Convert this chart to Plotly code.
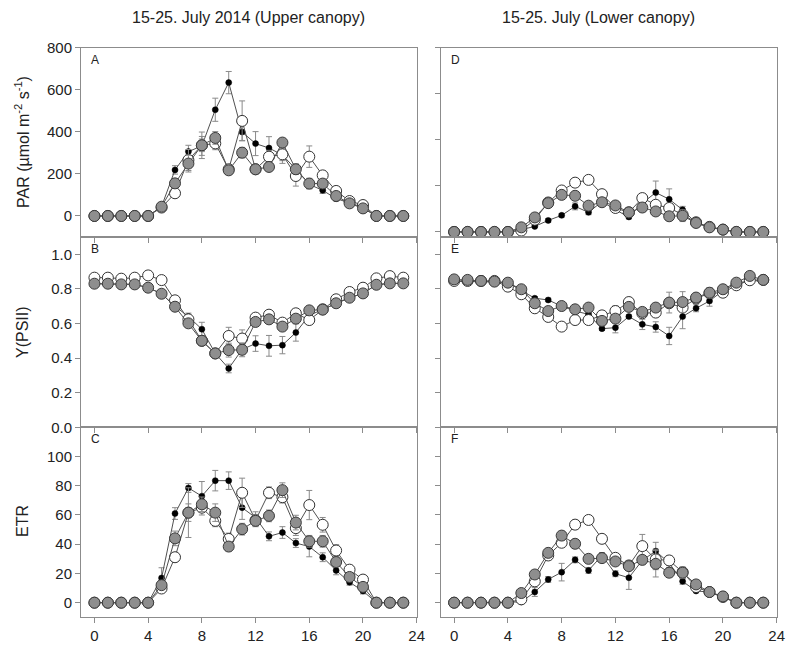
import plotly.graph_objects as go
from plotly.subplots import make_subplots

hours = list(range(24))

# Panel A: PAR, upper canopy
par_up_black = [0,0,0,0,0,45,219,306,333,505,634,399,344,323,290,222,150,122,82,63,40,0,0,0]
par_up_black_err = [0,0,0,0,0,15,20,30,45,55,53,40,57,54,40,25,20,15,10,8,5,0,0,0]
par_up_white = [0,0,0,0,0,40,108,266,336,345,222,452,222,282,293,190,282,193,119,71,52,0,0,0]
par_up_white_err = [0,0,0,0,0,10,15,50,63,30,20,95,20,30,30,48,51,20,15,10,8,0,0,0]
par_up_gray = [0,0,0,0,0,44,155,249,336,371,217,301,222,233,349,222,154,154,95,60,36,0,0,0]
par_up_gray_err = [0,0,0,0,0,10,20,40,30,30,20,25,15,20,20,25,25,20,10,8,5,0,0,0]

# Panel B: Y(PSII), upper canopy
y_up_black = [0.83,0.83,0.826,0.826,0.807,0.772,0.70,0.64,0.567,0.427,0.34,0.45,0.484,0.471,0.475,0.548,0.647,0.68,0.717,0.749,0.774,0.824,0.832,0.832]
y_up_black_err = [0,0,0,0,0,0,0.01,0.02,0.04,0.02,0.025,0.03,0.045,0.06,0.05,0.05,0.02,0.01,0,0,0,0,0,0]
y_up_white = [0.865,0.865,0.859,0.865,0.878,0.851,0.734,0.624,0.5,0.427,0.528,0.513,0.634,0.651,0.605,0.659,0.62,0.682,0.74,0.782,0.807,0.861,0.874,0.865]
y_up_white_err = [0,0,0,0,0,0,0.01,0.01,0.02,0.02,0.05,0.05,0.02,0.02,0.02,0.02,0.02,0.01,0.01,0,0,0,0,0]
y_up_gray = [0.83,0.83,0.826,0.826,0.807,0.772,0.697,0.601,0.5,0.427,0.446,0.448,0.609,0.624,0.582,0.628,0.676,0.68,0.717,0.749,0.774,0.824,0.832,0.832]
y_up_gray_err = [0,0,0,0,0,0,0.01,0.01,0.02,0.02,0.04,0.04,0.02,0.02,0.02,0.02,0.01,0.01,0.01,0,0,0,0,0]

# Panel C: ETR, upper canopy
etr_up_black = [0,0,0,0,0,16.9,61,78.5,72.9,83.5,83.5,65,58.2,45.4,48,40.8,38.4,31.1,22.1,14,8,0,0,0]
etr_up_black_err = [0,0,0,0,0,7,4,3,10,7,6,8,4,3,4,3,7,3,3,2,2,0,0,0]
etr_up_white = [0,0,0,0,0,9.7,31.1,61.6,65,56,43.6,75.2,56.4,75.2,72.2,51,66.8,53.3,35.7,22.6,15.8,0,0,0]
etr_up_white_err = [0,0,0,0,0,2,3,6,5,4,4,10,4,4,4,5,10,5,4,3,2,0,0,0]
etr_up_gray = [0,0,0,0,0,12,44,61.6,67.3,61.6,38.4,50.3,56,59.4,77,54.8,42,42,27.8,17.6,10.8,0,0,0]
etr_up_gray_err = [0,0,0,0,0,3,5,17,5,6,3,4,4,4,5,5,4,4,3,2,2,0,0,0]

# Panel D: PAR, lower canopy
par_lo_black = [0,0,0,0,0,10,24,50,72,111,85,132,96,65,125,171,142,96,39,20,10,0,0,0]
par_lo_black_err = [0,0,0,0,0,3,5,8,8,15,10,10,10,8,15,50,45,15,8,5,3,0,0,0]
par_lo_white = [0,0,0,0,0,6,53,128,180,214,226,164,104,85,147,118,104,75,42,22,10,0,0,0]
par_lo_white_err = [0,0,0,0,0,3,5,8,10,15,8,8,12,8,20,12,10,8,5,3,2,0,0,0]
par_lo_gray = [0,0,0,0,0,20,63,125,161,157,114,129,115,85,106,89,68,70,39,20,10,0,0,0]
par_lo_gray_err = [0,0,0,0,0,3,5,8,8,8,8,8,8,6,8,12,10,25,5,3,2,0,0,0]

# Panel E: Y(PSII), lower canopy
y_lo_black = [0.844,0.844,0.842,0.84,0.836,0.79,0.746,0.736,0.70,0.672,0.653,0.570,0.576,0.64,0.595,0.58,0.528,0.64,0.688,0.73,0.79,0.83,0.85,0.844]
y_lo_black_err = [0,0,0,0,0,0,0.01,0.01,0.01,0.01,0.01,0.01,0.03,0.01,0.03,0.03,0.05,0.07,0.02,0.03,0,0,0,0]
y_lo_white = [0.846,0.846,0.846,0.846,0.813,0.769,0.688,0.638,0.582,0.62,0.62,0.647,0.672,0.724,0.659,0.663,0.717,0.692,0.744,0.775,0.778,0.821,0.85,0.852]
y_lo_white_err = [0,0,0,0,0,0,0.01,0.01,0.01,0.01,0.01,0.01,0.03,0.01,0.02,0.02,0.02,0.02,0.01,0.01,0,0,0,0]
y_lo_gray = [0.855,0.852,0.846,0.842,0.836,0.798,0.717,0.672,0.701,0.682,0.692,0.615,0.628,0.696,0.667,0.692,0.721,0.724,0.75,0.778,0.798,0.836,0.875,0.852]
y_lo_gray_err = [0,0,0,0,0,0,0.01,0.01,0.01,0.01,0.01,0.02,0.02,0.01,0.02,0.02,0.06,0.06,0.02,0.03,0,0,0,0]

# Panel F: ETR, lower canopy
etr_lo_black = [0,0,0,0,0,0.5,7.3,15.9,20.9,29.3,22.1,32.3,19.8,17.1,29,35.3,27.1,14.6,8,7.3,3.9,0,0,0]
etr_lo_black_err = [0,0,0,0,0,1,3,2,6,2,2,2,2,8,3,6,3,2,1,1,1,0,0,0]
etr_lo_white = [0,0,0,0,0,2.3,14.6,32.3,41,53.4,56.6,43.7,30.7,25.5,38.7,29.6,28.9,20.9,10.7,7.3,3.9,0,0,0]
etr_lo_white_err = [0,0,0,0,0,1,2,3,3,3,3,2,2,2,8,7,3,2,1,1,1,0,0,0]
etr_lo_gray = [0,0,0,0,0,6.6,19.3,34.1,45.9,40.3,30,30.5,28.2,25,29.3,26.6,20.5,20.5,12.5,7.3,4.3,0,0,0]
etr_lo_gray_err = [0,0,0,0,0,1,2,3,3,3,2,2,2,2,3,9,3,4,1,1,1,0,0,0]

panels = [
    (1, 1, par_up_black, par_up_black_err, par_up_white, par_up_white_err, par_up_gray, par_up_gray_err),
    (1, 2, par_lo_black, par_lo_black_err, par_lo_white, par_lo_white_err, par_lo_gray, par_lo_gray_err),
    (2, 1, y_up_black, y_up_black_err, y_up_white, y_up_white_err, y_up_gray, y_up_gray_err),
    (2, 2, y_lo_black, y_lo_black_err, y_lo_white, y_lo_white_err, y_lo_gray, y_lo_gray_err),
    (3, 1, etr_up_black, etr_up_black_err, etr_up_white, etr_up_white_err, etr_up_gray, etr_up_gray_err),
    (3, 2, etr_lo_black, etr_lo_black_err, etr_lo_white, etr_lo_white_err, etr_lo_gray, etr_lo_gray_err),
]

fig = make_subplots(rows=3, cols=2)

LINE = '#505050'
ERR = '#8a8a8a'
for (r, c, kb, kbe, kw, kwe, kg, kge) in panels:
    fig.add_trace(go.Scatter(x=hours, y=kb, mode='lines+markers',
                             line=dict(color=LINE, width=1),
                             marker=dict(size=6, color='black', line=dict(color='black', width=0.5)),
                             error_y=dict(type='data', array=kbe, color=ERR, thickness=1, width=3),
                             showlegend=False), row=r, col=c)
    fig.add_trace(go.Scatter(x=hours, y=kw, mode='lines+markers',
                             line=dict(color=LINE, width=1),
                             marker=dict(size=11, color='white', line=dict(color='#333333', width=1)),
                             error_y=dict(type='data', array=kwe, color=ERR, thickness=1, width=3),
                             showlegend=False), row=r, col=c)
    fig.add_trace(go.Scatter(x=hours, y=kg, mode='lines+markers',
                             line=dict(color=LINE, width=1),
                             marker=dict(size=11, color='#8e8e8e', line=dict(color='#3a3a3a', width=1)),
                             error_y=dict(type='data', array=kge, color=ERR, thickness=1, width=3),
                             showlegend=False), row=r, col=c)

W, H = 787, 650
xdom_left = [81 / W, 416.7 / W]
xdom_right = [440.7 / W, 776.7 / W]
ydoms = [[1 - 237 / H, 1 - 47.7 / H], [1 - 427.3 / H, 1 - 237 / H], [1 - 617.3 / H, 1 - 427.3 / H]]

axis_font = dict(family='Liberation Sans, Arial, sans-serif', size=15, color='#222222')
common = dict(showline=True, mirror=True, linecolor='#8c8c8c', linewidth=1,
              ticks='outside', ticklen=5, tickcolor='#8c8c8c', tickwidth=1,
              showgrid=False, zeroline=False, tickfont=axis_font, automargin=False)

yranges = {1: [-100, 800], 2: [-22, 800], 3: [0, 1.1], 4: [0, 1.1], 5: [-10, 120], 6: [-10, 120]}
ytickvals = {1: [0, 200, 400, 600, 800], 2: [0, 200, 400, 600, 800],
             3: [0, 0.2, 0.4, 0.6, 0.8, 1.0], 4: [0, 0.2, 0.4, 0.6, 0.8, 1.0],
             5: [0, 20, 40, 60, 80, 100], 6: [0, 20, 40, 60, 80, 100]}

for i in range(1, 7):
    row = (i - 1) // 2
    col = (i - 1) % 2
    xd = xdom_left if col == 0 else xdom_right
    xname = 'xaxis' if i == 1 else f'xaxis{i}'
    yname = 'yaxis' if i == 1 else f'yaxis{i}'
    fig.layout[xname].update(domain=xd, range=[-1, 24], tickvals=[0, 4, 8, 12, 16, 20, 24],
                             showticklabels=(row == 2), **common)
    yt = ytickvals[i]
    ytext = [f'{v:.1f}' for v in yt] if i in (3, 4) else [str(v) for v in yt]
    fig.layout[yname].update(domain=ydoms[row], range=yranges[i], tickvals=yt, ticktext=ytext,
                             showticklabels=(col == 0), **common)

letters = ['A', 'D', 'B', 'E', 'C', 'F']
annotations = []
for i, L in enumerate(letters, start=1):
    sfx = '' if i == 1 else str(i)
    annotations.append(dict(text=L, xref=f'x{sfx} domain', yref=f'y{sfx} domain', x=0, y=1,
                            xanchor='left', yanchor='top', xshift=8, yshift=-3, showarrow=False,
                            font=dict(family='Liberation Sans, Arial, sans-serif', size=12, color='#222222')))

title_font = dict(family='Liberation Sans, Arial, sans-serif', size=16, color='#222222')
annotations.append(dict(text='15-25. July 2014 (Upper canopy)', xref='paper', yref='paper',
                        x=248 / W, y=1 - 18 / H, xanchor='center', yanchor='middle', showarrow=False, font=title_font))
annotations.append(dict(text='15-25. July (Lower canopy)', xref='paper', yref='paper',
                        x=598 / W, y=1 - 18 / H, xanchor='center', yanchor='middle', showarrow=False, font=title_font))

label_font = dict(family='Liberation Sans, Arial, sans-serif', size=16, color='#222222')
annotations.append(dict(text='PAR (µmol m<sup>-2</sup> s<sup>-1</sup>)', xref='paper', yref='paper',
                        x=22 / W, y=1 - 142 / H, xanchor='center', yanchor='middle', textangle=-90,
                        showarrow=False, font=label_font))
annotations.append(dict(text='Y(PSII)', xref='paper', yref='paper',
                        x=22 / W, y=1 - 332 / H, xanchor='center', yanchor='middle', textangle=-90,
                        showarrow=False, font=label_font))
annotations.append(dict(text='ETR', xref='paper', yref='paper',
                        x=22 / W, y=1 - 521 / H, xanchor='center', yanchor='middle', textangle=-90,
                        showarrow=False, font=label_font))

fig.update_layout(width=W, height=H, margin=dict(l=0, r=0, t=0, b=0),
                  paper_bgcolor='white', plot_bgcolor='white', showlegend=False,
                  annotations=annotations,
                  font=dict(family='Liberation Sans, Arial, sans-serif', color='#222222'))

fig.write_html('out.html', config={'displayModeBar': False},
               post_script="document.body.style.margin='0';document.body.style.padding='0';"
                           "document.documentElement.style.overflow='hidden';")
